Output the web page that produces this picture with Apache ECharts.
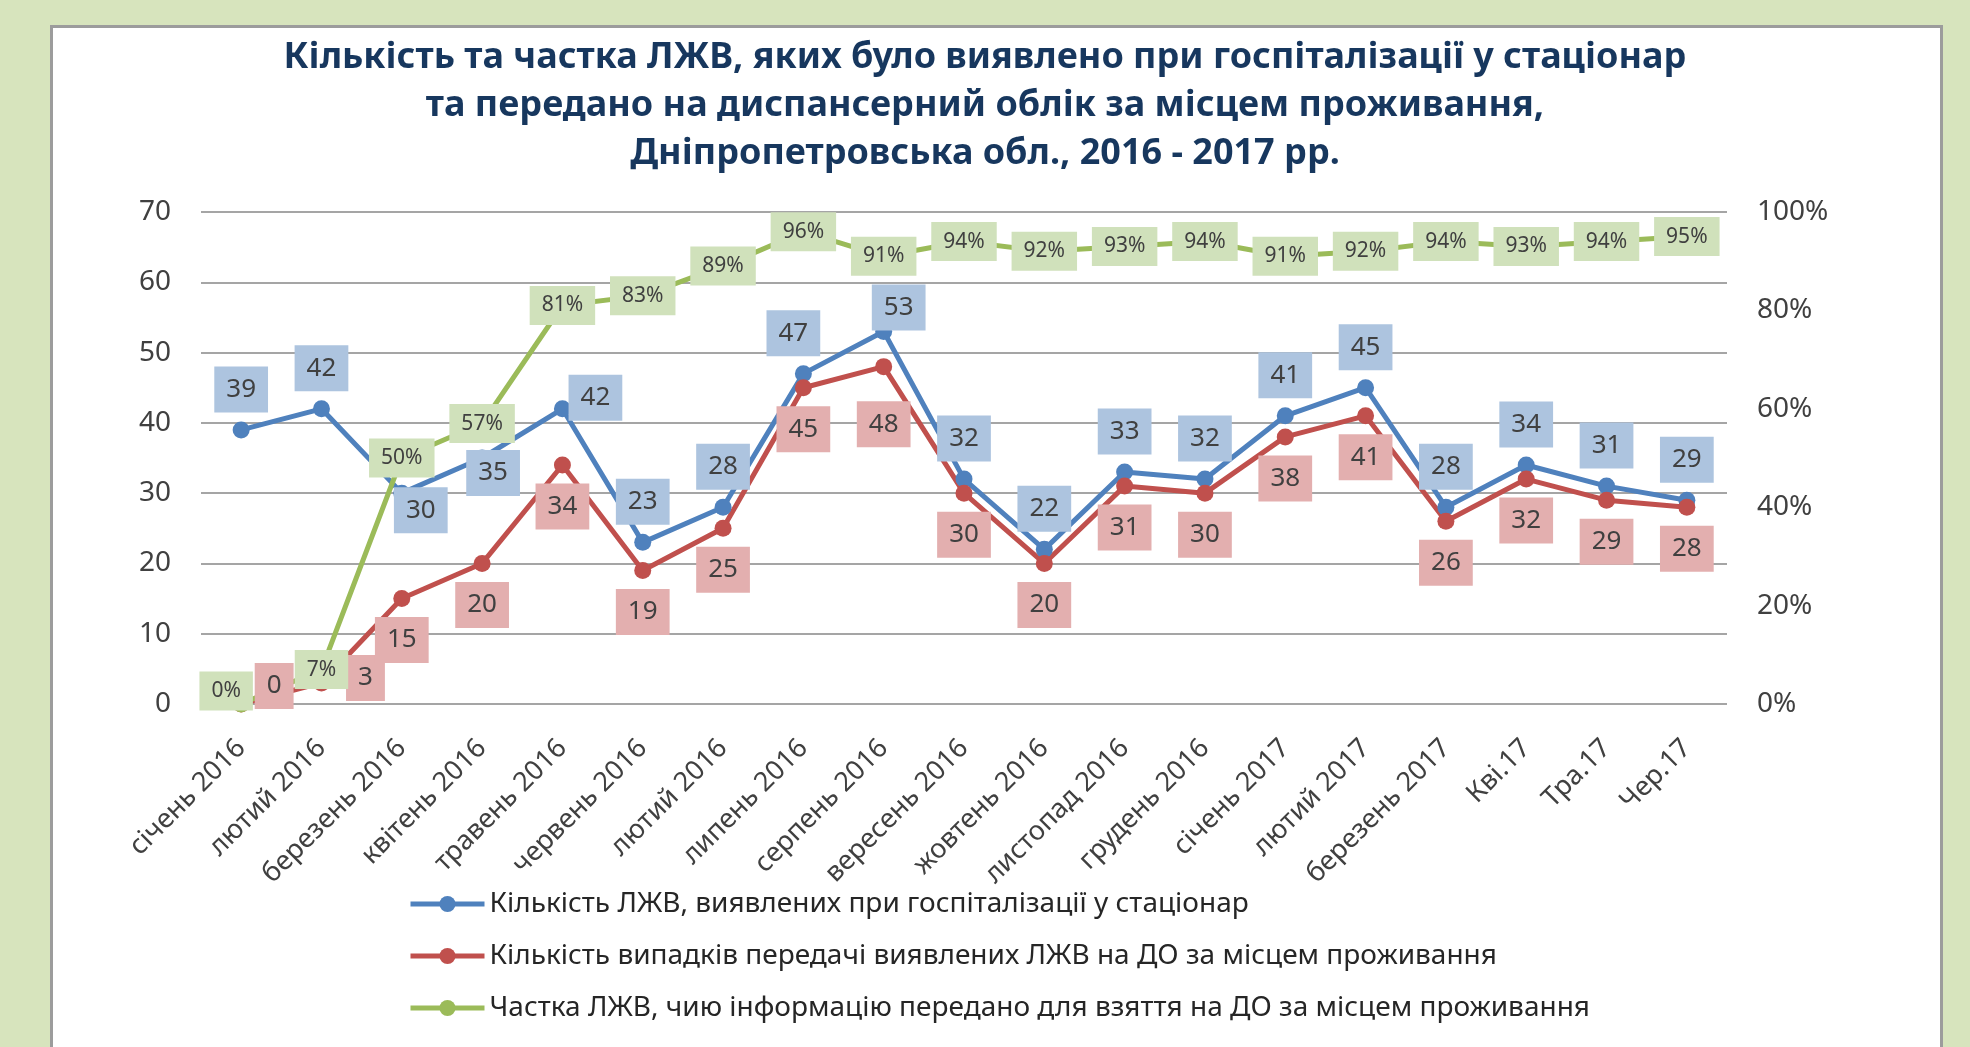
<!DOCTYPE html>
<html>
<head>
<meta charset="utf-8">
<title>ЛЖВ, Дніпропетровська обл.</title>
<script src="https://cdn.jsdelivr.net/npm/echarts@6/dist/echarts.min.js"></script>
<style>
  html, body { margin: 0; padding: 0; width: 1970px; height: 1047px; overflow: hidden; background: #d7e4bd; }
  #panel { position: absolute; left: 50px; top: 25px; width: 1887px; height: 1040px; background: #fff; border: 3px solid #9c9c9c; border-bottom: none; }
  #chart { position: absolute; left: 0; top: 0; width: 1970px; height: 1047px; }
</style>
</head>
<body>
<div id="panel"></div>
<div id="chart"></div>
<script>
// категорії (місяці) так, як підписано у вихідному графіку
const months = [
  'січень 2016', 'лютий 2016', 'березень 2016', 'квітень 2016', 'травень 2016',
  'червень 2016', 'лютий 2016', 'липень 2016', 'серпень 2016', 'вересень 2016',
  'жовтень 2016', 'листопад 2016', 'грудень 2016', 'січень 2017', 'лютий 2017',
  'березень 2017', 'Кві.17', 'Тра.17', 'Чер.17'
]

// кількість ЛЖВ, виявлених при госпіталізації
const detected = [39, 42, 30, 35, 42, 23, 28, 47, 53, 32, 22, 33, 32, 41, 45, 28, 34, 31, 29]
// кількість випадків передачі на ДО
const transferred = [0, 3, 15, 20, 34, 19, 25, 45, 48, 30, 20, 31, 30, 38, 41, 26, 32, 29, 28]
// частка переданих (0..1)
const share = [0, 0.07, 0.50, 0.57, 0.81, 0.83, 0.89, 0.96, 0.91, 0.94, 0.92, 0.93, 0.94, 0.91, 0.92, 0.94, 0.93, 0.94, 0.95]

const seriesNames = [
  'Кількість ЛЖВ, виявлених при госпіталізації у стаціонар',
  'Кількість випадків передачі виявлених ЛЖВ на ДО за місцем проживання',
  'Частка ЛЖВ, чию інформацію передано для взяття на ДО за місцем проживання'
]

const titleText = 'Кількість та частка ЛЖВ, яких було виявлено при госпіталізації у стаціонар\n' +
  'та передано на диспансерний облік за місцем проживання,\n' +
  'Дніпропетровська обл., 2016 - 2017 рр.'

// кольори
const colors = {
  blue: '#4f81bd',
  red: '#c0504d',
  green: '#9bbb59',
  blueBox: '#adc4df',
  redBox: '#e3afaf',
  greenBox: '#d0e1bb',
  text: '#404040',
  grid: '#a5a5a5',
  title: '#17375e'
}

const font = 'Noto Sans'

// зсуви окремих підписів, щоб вони стояли як в оригіналі
const blueLabelTweaks = {
  2: { position: 'inside', offset: [19, 17] },
  3: { position: 'inside', offset: [11, 15] },
  4: { position: 'inside', offset: [33, -11] },
  7: { offset: [-10, 0] },
  8: { position: 'inside', offset: [15, -24] }
}
const redLabelTweaks = {
  0: { position: 'inside', offset: [33, -18] },
  1: { position: 'inside', offset: [44, -5] },
  8: { distance: 26 }
}
const greenLabelTweaks = {
  0: { offset: [-15, -13] }
}

// точки ряду з індивідуальними підписами
const withTweaks = (values, tweaks) =>
  values.map((v, i) => (tweaks[i] ? { value: v, label: tweaks[i] } : v))

const boxLabel = (bg, size, extra) => Object.assign({
  show: true,
  backgroundColor: bg,
  color: colors.text,
  fontFamily: font,
  fontSize: size,
  lineHeight: size,
  padding: [10, 12]
}, extra)

const pct = v => Math.round(v * 100) + '%'

// сама лінія з маркерами
const lineSeries = (name, values, color, yAxisIndex, z) => ({
  name,
  type: 'line',
  yAxisIndex,
  data: values,
  symbol: 'circle',
  symbolSize: 17,
  color,
  lineStyle: { width: 5, color },
  z
})

// прозорий дублікат ряду лише для підписів, щоб вони лежали над усіма лініями (як в Excel)
const labelSeries = (key, values, tweaks, yAxisIndex, label) => ({
  name: 'labels-' + key,
  type: 'line',
  yAxisIndex,
  data: withTweaks(values, tweaks),
  symbol: 'circle',
  symbolSize: 17,
  silent: true,
  itemStyle: { color: 'rgba(0,0,0,0)' },
  lineStyle: { width: 0, opacity: 0 },
  label,
  z: 10
})

const chart = echarts.init(document.getElementById('chart'), null, { renderer: 'canvas' })

const option = {
  animation: false,
  title: {
    text: titleText,
    left: 'center',
    top: 29,
    textStyle: {
      fontFamily: font,
      fontWeight: 'bold',
      fontSize: 36,
      lineHeight: 48,
      color: colors.title
    }
  },
  legend: {
    orient: 'vertical',
    left: 403,
    top: 885,
    itemWidth: 74,
    itemHeight: 20,
    itemGap: 24,
    data: seriesNames,
    lineStyle: { width: 5 },
    textStyle: { fontFamily: font, fontSize: 28, lineHeight: 28, color: '#262626' }
  },
  grid: { left: 201, right: 243, top: 212, bottom: 343 },
  xAxis: {
    type: 'category',
    data: months,
    boundaryGap: true,
    axisLine: { show: false },
    axisTick: { show: false },
    axisLabel: {
      rotate: 45,
      margin: 40,
      interval: 0,
      fontFamily: font,
      fontSize: 27,
      color: colors.text
    }
  },
  yAxis: [
    {
      type: 'value',
      min: 0,
      max: 70,
      interval: 10,
      axisLine: { show: false },
      axisTick: { show: false },
      splitLine: { lineStyle: { color: colors.grid, width: 2 } },
      axisLabel: { margin: 30, fontFamily: font, fontSize: 28, color: colors.text }
    },
    {
      type: 'value',
      min: 0,
      max: 1,
      interval: 0.2,
      axisLine: { show: false },
      axisTick: { show: false },
      splitLine: { show: false },
      axisLabel: { margin: 30, fontFamily: font, fontSize: 28, color: colors.text, formatter: pct }
    }
  ],
  series: [
    lineSeries(seriesNames[0], detected, colors.blue, 0, 3),
    lineSeries(seriesNames[1], transferred, colors.red, 0, 3),
    lineSeries(seriesNames[2], share, colors.green, 1, 4),
    labelSeries('blue', detected, blueLabelTweaks, 0,
      boxLabel(colors.blueBox, 26, { position: 'top', distance: 9 })),
    labelSeries('red', transferred, redLabelTweaks, 0,
      boxLabel(colors.redBox, 26, { position: 'bottom', distance: 10 })),
    labelSeries('green', share, greenLabelTweaks, 1,
      boxLabel(colors.greenBox, 21, { position: 'inside', padding: [9, 12], formatter: p => pct(p.value) }))
  ]
}

chart.setOption(option)
</script>
</body>
</html>
